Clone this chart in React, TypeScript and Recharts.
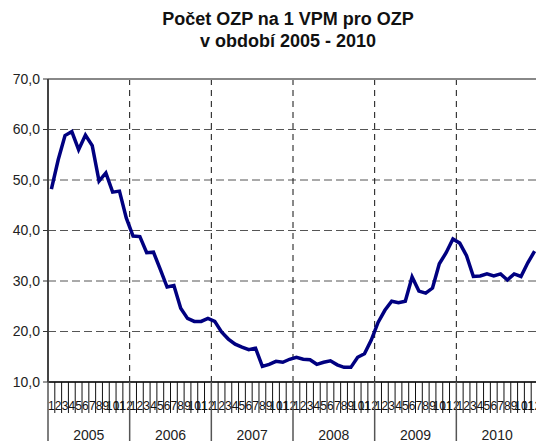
import { CartesianGrid, Line, LineChart, ReferenceLine, XAxis, YAxis } from "recharts";

const years = ["2005", "2006", "2007", "2008", "2009", "2010"];
const months = ["1", "2", "3", "4", "5", "6", "7", "8", "9", "10", "11", "12"];

// Počet OZP na 1 VPM, měsíčně
const values2005 = [48.2, 54.0, 58.8, 59.6, 56.0, 58.9, 56.8, 49.8, 51.4, 47.6, 47.8, 42.5];
const values2006 = [38.9, 38.8, 35.6, 35.7, 32.3, 28.8, 29.1, 24.6, 22.6, 22.0, 22.0, 22.6];
const values2007 = [22.0, 19.9, 18.5, 17.5, 16.9, 16.4, 16.7, 13.1, 13.5, 14.1, 13.9, 14.5];
const values2008 = [14.9, 14.5, 14.4, 13.5, 13.9, 14.2, 13.4, 12.9, 12.9, 14.9, 15.6, 18.3];
const values2009 = [21.8, 24.2, 26.0, 25.7, 26.0, 30.8, 28.0, 27.6, 28.6, 33.4, 35.6, 38.3];
const values2010 = [37.5, 35.0, 30.9, 31.0, 31.4, 31.0, 31.4, 30.2, 31.4, 30.9, 33.6, 35.9];

const yTicks = [10, 20, 30, 40, 50, 60, 70];

const series = [values2005, values2006, values2007, values2008, values2009, values2010];

const data = series.flatMap((vals, yi) =>
  vals.map((v, mi) => ({
    pos: yi * 12 + mi + 0.5,
    year: years[yi],
    month: months[mi],
    value: v,
  }))
);

const total = data.length;
// boundaries (integers) for tick lines, centers (x.5) for month labels
const xTicks: number[] = [];
for (let i = 0; i <= total; i++) {
  xTicks.push(i);
  if (i < total) xTicks.push(i + 0.5);
}
const yearEdges = years.slice(1).map((_, i) => (i + 1) * 12);

const FONT = "'Liberation Sans', Arial, sans-serif";

function MonthTick(props: any) {
  const { x, y, payload } = props;
  const v = payload.value as number;
  if (Number.isInteger(v)) {
    const edge = v % 12 === 0;
    const mid = v % 12 === 6;
    return (
      <g>
        <line
          x1={x}
          x2={x}
          y1={y}
          y2={y + (edge ? 60 : 31)}
          stroke={edge ? "#555" : "#111"}
          strokeWidth={edge ? 1.5 : 1}
        />
        {mid && (
          <text x={x} y={y + 58} textAnchor="middle" fontSize={14} fill="#222" fontFamily={FONT}>
            {years[Math.floor(v / 12)]}
          </text>
        )}
      </g>
    );
  }
  const idx = Math.floor(v);
  return (
    <text x={x} y={y + 28} textAnchor="middle" fontSize={12} fill="#111" fontFamily={FONT}>
      {months[idx % 12]}
    </text>
  );
}

export default function App() {
  return (
    <div
      style={{
        position: "absolute",
        left: 0,
        top: 0,
        width: 536,
        height: 441,
        overflow: "hidden",
        background: "#fff",
        fontFamily: FONT,
      }}
    >
      <div
        style={{
          position: "absolute",
          left: 0,
          top: 8,
          width: 576,
          textAlign: "center",
          fontWeight: "bold",
          fontSize: 18,
          lineHeight: "22px",
          color: "#111",
        }}
      >
        Počet OZP na 1 VPM pro OZP
        <br />v období 2005 - 2010
      </div>
      <LineChart
        width={540}
        height={441}
        data={data}
        margin={{ top: 79, right: 2, left: 0, bottom: 0 }}
      >
        <CartesianGrid
          vertical={false}
          stroke="#555"
          strokeDasharray="8 4"
        />
        {yearEdges.map((e) => (
          <ReferenceLine key={e} x={e} stroke="#111" strokeDasharray="6 5" />
        ))}
        <ReferenceLine y={70} stroke="#888" strokeWidth={2} />
        <XAxis
          dataKey="pos"
          type="number"
          domain={[0, total]}
          ticks={xTicks}
          interval={0}
          height={59}
          tickSize={0}
          tickMargin={0}
          tickLine={false}
          axisLine={{ stroke: "#333", strokeWidth: 2 }}
          tick={<MonthTick />}
        />
        <YAxis
          domain={[10, 70]}
          ticks={yTicks}
          width={48}
          tickSize={5}
          tickMargin={3}
          tickLine={{ stroke: "#333" }}
          axisLine={{ stroke: "#444", strokeWidth: 2 }}
          tick={{ fill: "#222", fontSize: 14, fontFamily: FONT }}
          tickFormatter={(v: number) => v.toFixed(1).replace(".", ",")}
        />
        <Line
          dataKey="value"
          type="linear"
          stroke="#000080"
          strokeWidth={3.5}
          dot={false}
          isAnimationActive={false}
        />
      </LineChart>
    </div>
  );
}
